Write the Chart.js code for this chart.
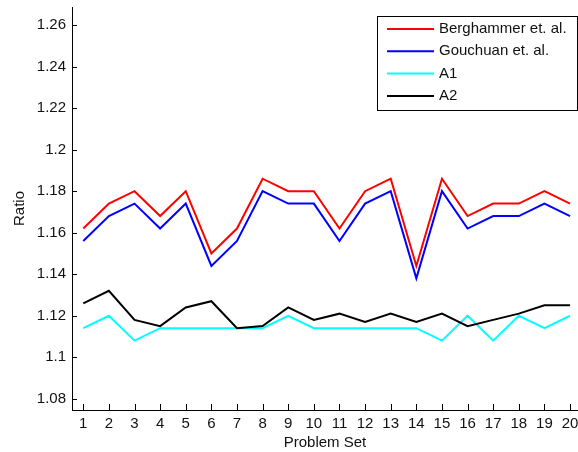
<!DOCTYPE html>
<html>
<head>
<meta charset="utf-8">
<script src="https://cdn.jsdelivr.net/npm/chart.js@4/dist/chart.umd.min.js"></script>
<style>
    html, body { margin: 0; padding: 0; background: #fff; }
    #wrap { position: relative; width: 578px; height: 452px; }
</style>
</head>
<body>
<div id="wrap"><canvas id="ratio-chart" width="578" height="452"></canvas></div>
<script>
// ── Data ──────────────────────────────────────────────────────
const problemSets = [1, 2, 3, 4, 5, 6, 7, 8, 9, 10, 11, 12, 13, 14, 15, 16, 17, 18, 19, 20];
const berghammer = [1.162, 1.174, 1.180, 1.168, 1.180, 1.150, 1.162, 1.186, 1.180, 1.180,
                    1.162, 1.180, 1.186, 1.144, 1.186, 1.168, 1.174, 1.174, 1.180, 1.174];
const gouchuan   = [1.156, 1.168, 1.174, 1.162, 1.174, 1.144, 1.156, 1.180, 1.174, 1.174,
                    1.156, 1.174, 1.180, 1.138, 1.180, 1.162, 1.168, 1.168, 1.174, 1.168];
const a1         = [1.114, 1.120, 1.108, 1.114, 1.114, 1.114, 1.114, 1.114, 1.120, 1.114,
                    1.114, 1.114, 1.114, 1.114, 1.108, 1.120, 1.108, 1.120, 1.114, 1.120];
const a2         = [1.126, 1.132, 1.118, 1.115, 1.124, 1.127, 1.114, 1.115, 1.124, 1.118,
                    1.121, 1.117, 1.121, 1.117, 1.121, 1.115, 1.118, 1.121, 1.125, 1.125];
const yTicks = [1.08, 1.1, 1.12, 1.14, 1.16, 1.18, 1.2, 1.22, 1.24, 1.26];
const xTicks = problemSets;

const FONT = { family: "'Liberation Sans', Arial, sans-serif", size: 15 };

const toPoints = arr => arr.map((v, i) => ({ x: problemSets[i], y: v }));

// inward tick marks (MATLAB style)
const innerTicks = {
    id: 'innerTicks',
    afterDraw(chart) {
        const { ctx, chartArea, scales } = chart;
        ctx.save();
        ctx.strokeStyle = '#000';
        ctx.lineWidth = 1;
        ctx.beginPath();
        yTicks.forEach(v => {
            const y = Math.round(scales.y.getPixelForValue(v)) + 0.5;
            ctx.moveTo(chartArea.left, y);
            ctx.lineTo(chartArea.left + 5, y);
        });
        xTicks.forEach(v => {
            const x = Math.round(scales.x.getPixelForValue(v)) + 0.5;
            ctx.moveTo(x, chartArea.bottom);
            ctx.lineTo(x, chartArea.bottom - 6);
        });
        ctx.stroke();
        ctx.restore();
    }
};

// boxed legend in the top-right corner
const boxLegend = {
    id: 'boxLegend',
    afterDraw(chart) {
        const { ctx } = chart;
        const left = 377, top = 16, w = 200, h = 94, row = 22.3;
        ctx.save();
        ctx.fillStyle = '#fff';
        ctx.fillRect(left, top, w, h);
        ctx.strokeStyle = '#000';
        ctx.lineWidth = 1;
        ctx.strokeRect(left + 0.5, top + 0.5, w, h);
        ctx.font = `${FONT.size}px ${FONT.family}`;
        ctx.textBaseline = 'middle';
        ctx.fillStyle = '#111';
        chart.data.datasets.forEach((ds, i) => {
            const y = top + 13 + i * row;
            ctx.strokeStyle = ds.borderColor;
            ctx.lineWidth = 2;
            ctx.beginPath();
            ctx.moveTo(387, y);
            ctx.lineTo(434, y);
            ctx.stroke();
            ctx.fillText(ds.label, 439, y);
        });
        ctx.restore();
    }
};

const line = (label, data, color, order) => ({
    label, data: toPoints(data), borderColor: color, backgroundColor: color,
    borderWidth: 2, pointRadius: 0, tension: 0, order
});

new Chart(document.getElementById('ratio-chart'), {
    type: 'line',
    data: {
        datasets: [
            line('Berghammer et. al.', berghammer, '#ff0000', 3),
            line('Gouchuan et. al.', gouchuan, '#0000ff', 4),
            line('A1', a1, '#00ffff', 2),
            line('A2', a2, '#000000', 1)
        ]
    },
    options: {
        responsive: false,
        animation: false,
        layout: { padding: { top: 7, right: 0, left: 0, bottom: 0 } },
        plugins: { legend: { display: false }, tooltip: { enabled: false } },
        scales: {
            x: {
                type: 'linear',
                min: 0.56,
                max: 20.31,
                afterBuildTicks: s => { s.ticks = xTicks.map(v => ({ value: v })); },
                afterFit: s => { s.height = 42; s.paddingLeft = 0; s.paddingRight = 0; },
                grid: { display: false, tickLength: 0 },
                border: { display: true, color: '#000', width: 1 },
                ticks: { color: '#111', font: FONT, padding: 5, autoSkip: false, maxRotation: 0 },
                title: { display: true, text: 'Problem Set', color: '#111', font: FONT, padding: 0 }
            },
            y: {
                min: 1.0746,
                max: 1.2687,
                afterBuildTicks: s => { s.ticks = yTicks.map(v => ({ value: v })); },
                afterFit: s => { s.width = 72; s.paddingTop = 0; s.paddingBottom = 0; },
                grid: { display: false, tickLength: 0 },
                border: { display: true, color: '#000', width: 1 },
                ticks: {
                    color: '#111', font: FONT, padding: 6,
                    callback: v => String(parseFloat(v.toFixed(2)))
                },
                title: { display: true, text: 'Ratio', color: '#111', font: FONT, padding: 11 }
            }
        }
    },
    plugins: [innerTicks, boxLegend]
});
</script>
</body>
</html>
